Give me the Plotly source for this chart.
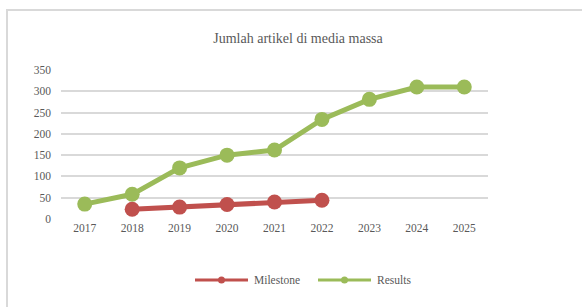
import plotly.graph_objects as go

years = ["2017", "2018", "2019", "2020", "2021", "2022", "2023", "2024", "2025"]
milestone = [None, 23, 28, 34, 40, 44, None, None, None]
results = [35, 58, 120, 150, 162, 234, 281, 310, 310]
series_names = ["Milestone", "Results"]

RED = "#C0504D"
GREEN = "#9BBB59"
TXT = "#595959"
FONT = "Liberation Serif"

fig = go.Figure()
fig.add_trace(go.Scatter(x=years, y=milestone, mode="lines+markers", name=series_names[0],
                         showlegend=False,
                         line=dict(color=RED, width=5), marker=dict(color=RED, size=15)))
fig.add_trace(go.Scatter(x=years, y=results, mode="lines+markers", name=series_names[1],
                         showlegend=False,
                         line=dict(color=GREEN, width=5), marker=dict(color=GREEN, size=15)))

L, R, T, B = 61, 94, 70, 88
W, H = 582, 307
pw, ph = W - L - R, H - T - B

def px(x):
    return (x - L) / pw

def py(y):
    return (H - B - y) / ph

# chart frame
fig.add_shape(type="rect", xref="paper", yref="paper",
              x0=px(7), x1=px(600), y0=py(320), y1=py(10),
              line=dict(color="#D9D9D9", width=2), fillcolor="rgba(0,0,0,0)", layer="below")

# legend (drawn manually to match long legend lines)
legend_y = 280
for name, color, x0 in [(series_names[0], RED, 195), (series_names[1], GREEN, 318)]:
    fig.add_shape(type="line", xref="paper", yref="paper",
                  x0=px(x0), x1=px(x0 + 53), y0=py(legend_y), y1=py(legend_y),
                  line=dict(color=color, width=3))
    cx = x0 + 26.5
    fig.add_shape(type="circle", xref="paper", yref="paper",
                  x0=px(cx - 3.5), x1=px(cx + 3.5), y0=py(legend_y + 3.5), y1=py(legend_y - 3.5),
                  line=dict(color=color, width=0), fillcolor=color)
    fig.add_annotation(text=name, xref="paper", yref="paper", x=px(x0 + 57), y=py(legend_y),
                       xanchor="left", yanchor="middle", showarrow=False,
                       font=dict(family=FONT, size=11.5, color=TXT))

fig.update_layout(
    width=W, height=H,
    margin=dict(l=L, r=R, t=T, b=B),
    paper_bgcolor="white", plot_bgcolor="white",
    showlegend=False,
    font=dict(family=FONT, color=TXT, size=11.5),
    title=dict(text="Jumlah artikel di media massa", x=298 / W, xanchor="center",
               y=1 - 38 / H, yanchor="middle", font=dict(family=FONT, size=14, color=TXT)),
    xaxis=dict(type="category", showgrid=False, showline=False, zeroline=False,
               ticks="", tickfont=dict(size=11.5, color=TXT), range=[-0.5, 8.5]),
    yaxis=dict(range=[0, 350], dtick=50, showgrid=True, gridcolor="#D9D9D9", gridwidth=1.5,
               zeroline=False, showline=False, ticks="", ticklabelstandoff=9,
               tickfont=dict(size=11.5, color=TXT)),
)

fig.write_html("out.html", config={"displayModeBar": False},
               post_script="document.body.style.margin='0';")
